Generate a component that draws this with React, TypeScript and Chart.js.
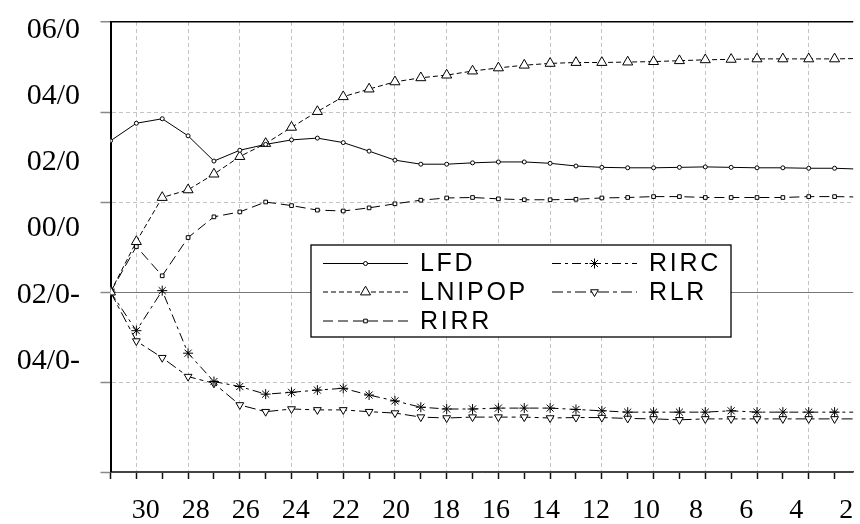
import React, { useEffect, useRef } from 'react';
import { Chart, registerables } from 'chart.js';
import { drawPoint } from 'chart.js/helpers';

Chart.register(...registerables);

// Periods (horizontal axis runs from 31 on the left down towards 1 on the right)
const periods = [31, 30, 29, 28, 27, 26, 25, 24, 23, 22, 21, 20, 19, 18, 17, 16, 15, 14, 13, 12, 11, 10, 9, 8, 7, 6, 5, 4, 3, 2, 1];

const LFD = [0.0336, 0.0375, 0.0385, 0.0347, 0.0291, 0.0315, 0.0328, 0.0338, 0.0342, 0.0332, 0.0313, 0.0293, 0.0284, 0.0284, 0.0287, 0.0289, 0.0289, 0.0286, 0.028, 0.0277, 0.0276, 0.0276, 0.0277, 0.0278, 0.0277, 0.0276, 0.0276, 0.0275, 0.0275, 0.0273, 0.0272];
const LNIPOP = [0, 0.0112, 0.021, 0.0227, 0.0262, 0.0301, 0.033, 0.0366, 0.0401, 0.0434, 0.0451, 0.0467, 0.0476, 0.0482, 0.0491, 0.0498, 0.0504, 0.0508, 0.051, 0.051, 0.0511, 0.0512, 0.0514, 0.0516, 0.0517, 0.0518, 0.0518, 0.0518, 0.0518, 0.0519, 0.0519];
const RIRR = [0, 0.0101, 0.0036, 0.0121, 0.0167, 0.0178, 0.02, 0.0192, 0.0182, 0.018, 0.0187, 0.0196, 0.0204, 0.0209, 0.021, 0.0207, 0.0205, 0.0205, 0.0206, 0.0209, 0.021, 0.0212, 0.0212, 0.021, 0.021, 0.021, 0.021, 0.0212, 0.0212, 0.0211, 0.0211];
const RIRC = [0, -0.0086, 0.0003, -0.0136, -0.0199, -0.021, -0.0227, -0.0223, -0.0218, -0.0214, -0.0229, -0.0242, -0.0256, -0.026, -0.026, -0.0258, -0.0258, -0.0258, -0.0261, -0.0264, -0.0267, -0.0267, -0.0267, -0.0267, -0.0264, -0.0267, -0.0267, -0.0267, -0.0267, -0.0267, -0.0267];
const RLR = [0, -0.0109, -0.0146, -0.0188, -0.0203, -0.0251, -0.0266, -0.026, -0.0262, -0.0262, -0.0266, -0.0269, -0.0278, -0.028, -0.0278, -0.0278, -0.0278, -0.028, -0.0279, -0.0279, -0.0281, -0.0282, -0.0284, -0.0282, -0.0282, -0.0282, -0.0282, -0.0282, -0.0282, -0.0282, -0.0282];

const seriesNames = ['LFD', 'LNIPOP', 'RIRR', 'RIRC', 'RLR'];

// Grid values of the plotting axis
const gridValues = [0.06, 0.04, 0.02, 0, -0.02, -0.04];
// Tick labels as printed on the picture
const yTickValues = [0.06, 0.04, 0.02, 0, -0.02, -0.04];
const yTickLabels = ['06/0', '04/0', '02/0', '00/0', '02/0-', '04/0-'];
const xTickValues = [30, 28, 26, 24, 22, 20, 18, 16, 14, 12, 10, 8, 6, 4, 2];
const xTickLabels = ['30', '28', '26', '24', '22', '20', '18', '16', '14', '12', '10', '8', '6', '4', '2'];

const SERIF = '"Liberation Serif", "Times New Roman", serif';
const SANS = '"Liberation Sans", Arial, sans-serif';

const near = (a: number, b: number) => Math.abs(a - b) < 1e-9;

const legendPlugin = {
  id: 'boxLegend',
  afterDatasetsDraw(chart: any) {
    const ctx = chart.ctx as CanvasRenderingContext2D;
    const ds = chart.data.datasets;
    const box = { x: 311, y: 245, w: 420, h: 92 };
    const rows = [263.5, 292, 321];
    const cols = [
      { sx: 323, len: 85, tx: 420 },
      { sx: 552, len: 85, tx: 649 },
    ];
    ctx.save();
    ctx.fillStyle = '#ffffff';
    ctx.fillRect(box.x, box.y, box.w, box.h);
    ctx.strokeStyle = '#000';
    ctx.lineWidth = 1.3;
    ctx.strokeRect(box.x, box.y, box.w, box.h);
    ds.forEach((d: any, i: number) => {
      const col = cols[i < 3 ? 0 : 1];
      const y = rows[i < 3 ? i : i - 3];
      ctx.save();
      ctx.strokeStyle = '#000';
      ctx.lineWidth = 1;
      ctx.setLineDash(d.borderDash || []);
      ctx.beginPath();
      ctx.moveTo(col.sx, y);
      ctx.lineTo(col.sx + col.len, y);
      ctx.stroke();
      ctx.setLineDash([]);
      ctx.fillStyle = '#fff';
      ctx.strokeStyle = '#000';
      ctx.lineWidth = 1;
      drawPoint(ctx, { pointStyle: d.pointStyle, rotation: d.pointRotation || 0, radius: d.pointRadius, borderWidth: 1 }, col.sx + col.len / 2, y);
      ctx.restore();
      ctx.save();
      ctx.fillStyle = '#000';
      ctx.font = '25px ' + SANS;
      (ctx as any).letterSpacing = '2.7px';
      ctx.textAlign = 'left';
      ctx.textBaseline = 'middle';
      ctx.fillText(d.label, col.tx, y + 1);
      ctx.restore();
    });
    ctx.restore();
  },
};

const zeroPad = (s: any) => {
  s.paddingLeft = 0;
  s.paddingRight = 0;
  s.paddingTop = 0;
  s.paddingBottom = 0;
};

export default function App() {
  const ref = useRef<HTMLCanvasElement | null>(null);
  useEffect(() => {
    if (!ref.current) return;
    const mk = (vals: number[]) => periods.map((p, i) => ({ x: p, y: vals[i] }));
    const base = {
      borderColor: '#000',
      backgroundColor: '#fff',
      pointBorderColor: '#000',
      pointBackgroundColor: '#fff',
      borderWidth: 1,
      pointBorderWidth: 1,
      tension: 0,
      fill: false,
    };
    const chart = new Chart(ref.current, {
      type: 'line',
      data: {
        datasets: [
          { ...base, label: seriesNames[0], data: mk(LFD), borderDash: [], pointStyle: 'circle', pointRadius: 2 },
          { ...base, label: seriesNames[1], data: mk(LNIPOP), borderDash: [5, 3], pointStyle: 'triangle', pointRadius: 5.8 },
          { ...base, label: seriesNames[2], data: mk(RIRR), borderDash: [10, 5], pointStyle: 'rect', pointRadius: 2.6 },
          { ...base, label: seriesNames[3], data: mk(RIRC), borderDash: [9, 4, 3, 4], pointStyle: 'star', pointRadius: 5 },
          { ...base, label: seriesNames[4], data: mk(RLR), borderDash: [11, 4, 4, 4], pointStyle: 'triangle', pointRotation: 180, pointRadius: 4.5 },
        ] as any,
      },
      options: {
        animation: false,
        responsive: true,
        maintainAspectRatio: false,
        layout: { padding: { top: 22, left: 0, right: 0, bottom: 0 } },
        plugins: { legend: { display: false }, tooltip: { enabled: false } },
        scales: {
          x: {
            type: 'linear',
            position: 'bottom',
            weight: 0,
            reverse: true,
            min: 2.28,
            max: 31,
            afterBuildTicks: (s: any) => {
              s.ticks = periods.filter((p) => p >= s.min && p <= s.max).map((v) => ({ value: v }));
            },
            ticks: { display: false, autoSkip: false },
            grid: {
              color: (c: any) => (c.tick && c.tick.value % 2 === 0 ? '#c4c4c4' : 'rgba(0,0,0,0)'),
              lineWidth: 1,
              drawTicks: true,
              tickLength: 7,
              tickColor: '#111',
              tickWidth: 1.5,
            },
            border: { display: true, color: '#444', width: 1.5, dash: [4, 3] },
            afterFit: (s: any) => {
              s.height = 8;
              zeroPad(s);
            },
          },
          xl: {
            type: 'linear',
            position: 'bottom',
            weight: 1,
            reverse: true,
            min: 1.72,
            max: 31.41,
            afterBuildTicks: (s: any) => {
              s.ticks = xTickValues.map((v) => ({ value: v }));
            },
            ticks: {
              autoSkip: false,
              maxRotation: 0,
              padding: 14,
              color: '#000',
              font: { family: SERIF, size: 28 },
              callback: (v: any) => {
                const k = xTickValues.findIndex((t) => near(t, v));
                return k >= 0 ? xTickLabels[k] : '';
              },
            },
            grid: { display: false, drawTicks: false },
            border: { display: false },
            afterFit: (s: any) => {
              s.height = 44;
              zeroPad(s);
            },
          },
          y: {
            type: 'linear',
            position: 'left',
            weight: 0,
            min: -0.04,
            max: 0.06,
            afterBuildTicks: (s: any) => {
              s.ticks = gridValues.map((v) => ({ value: v }));
            },
            ticks: { display: false },
            grid: {
              color: (c: any) => {
                const v = c.tick ? c.tick.value : 1;
                if (near(v, 0.06)) return '#000';
                if (near(v, 0)) return '#777';
                if (near(v, -0.04)) return '#444';
                return '#c4c4c4';
              },
              lineWidth: (c: any) => {
                const v = c.tick ? c.tick.value : 1;
                if (near(v, 0.06)) return 1.5;
                return 1;
              },
              drawTicks: true,
              tickLength: 10,
              tickColor: '#888',
              tickWidth: 1.5,
            },
            border: {
              display: true,
              color: '#000',
              width: 2,
              dash: (c: any) => {
                const v = c.tick ? c.tick.value : 1;
                return near(v, 0.06) || near(v, 0) || near(v, -0.04) ? [] : [4, 3];
              },
            },
            afterFit: (s: any) => {
              s.width = 10;
              zeroPad(s);
            },
          },
          yl: {
            type: 'linear',
            position: 'left',
            weight: 1,
            min: -0.07354,
            max: 0.06242,
            afterBuildTicks: (s: any) => {
              s.ticks = yTickValues.map((v) => ({ value: v }));
            },
            ticks: {
              padding: 20.5,
              color: '#000',
              font: { family: SERIF, size: 30 },
              callback: (v: any) => {
                const k = yTickValues.findIndex((t) => near(t, v));
                return k >= 0 ? yTickLabels[k] : '';
              },
            },
            grid: { display: false, drawTicks: false },
            border: { display: false },
            afterFit: (s: any) => {
              s.width = 100.5;
              zeroPad(s);
            },
          },
        },
      } as any,
      plugins: [legendPlugin],
    });
    return () => chart.destroy();
  }, []);

  return (
    <div style={{ position: 'fixed', left: 0, top: 0, width: 860, height: 524, background: '#fff' }}>
      <canvas ref={ref} />
    </div>
  );
}
